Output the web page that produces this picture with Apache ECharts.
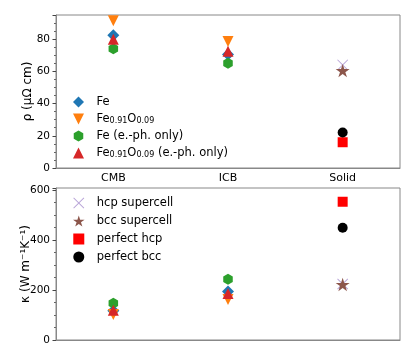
<!DOCTYPE html>
<html>
<head>
<meta charset="utf-8">
<script src="https://cdn.jsdelivr.net/npm/echarts@6/dist/echarts.min.js"></script>
<style>
  html, body { margin: 0; padding: 0; background: #fff; }
  #chart { width: 415px; height: 363px; }
</style>
</head>
<body>
<div id="chart"></div>
<script>
const categories = ['CMB', 'ICB', 'Solid'];

// resistivity rho (uOhm cm)
const rhoFe = [82.5, 70.5, '-'];
const rhoFeO = [91.5, 78.5, '-'];
const rhoFeEph = [74, 65, '-'];
const rhoFeOEph = [80, 72.5, '-'];
const rhoHcpSuper = ['-', '-', 64];
const rhoBccSuper = ['-', '-', 60.5];
const rhoPerfHcp = ['-', '-', 16];
const rhoPerfBcc = ['-', '-', 22];

// thermal conductivity kappa (W/m/K)
const kapFe = [117, 194, '-'];
const kapFeO = [102, 162, '-'];
const kapFeEph = [147, 243, '-'];
const kapFeOEph = [119, 186, '-'];
const kapHcpSuper = ['-', '-', 224];
const kapBccSuper = ['-', '-', 222];
const kapPerfHcp = ['-', '-', 553];
const kapPerfBcc = ['-', '-', 449];

const rhoTicks = { min: 0, max: 95, interval: 20 };
const kapTicks = { min: 0, max: 608, interval: 200 };

// marker shapes (kept as paths so the legend keeps their aspect)
const diamond = 'path://M0,-1L1,0L0,1L-1,0Z';
const triUp = 'path://M0,-1L1,1L-1,1Z';
const triDown = 'path://M-1,-1L1,-1L0,1Z';
const square = 'path://M-1,-1L1,-1L1,1L-1,1Z';
const hexagon = 'path://M0,-1L0.866,-0.5L0.866,0.5L0,1L-0.866,0.5L-0.866,-0.5Z';
const star = 'path://M0,-1L0.2245,-0.309L0.951,-0.309L0.363,0.118L0.588,0.809L0,0.382L-0.588,0.809L-0.363,0.118L-0.951,-0.309L-0.2245,-0.309Z';
const cross = 'path://M-1,-0.88L-0.88,-1L0,-0.12L0.88,-1L1,-0.88L0.12,0L1,0.88L0.88,1L0,0.12L-0.88,1L-1,0.88L-0.12,0Z';

const styles = [
    { name: 'Fe', symbol: diamond, size: 12, color: '#1f77b4' },
    { name: 'Fe0.91O0.09', symbol: triDown, size: 11, color: '#ff7f0e' },
    { name: 'Fe (e.-ph. only)', symbol: hexagon, size: 11, color: '#2ca02c' },
    { name: 'Fe0.91O0.09 (e.-ph. only)', symbol: triUp, size: 11, color: '#d62728' },
    { name: 'hcp supercell', symbol: cross, size: 11, color: '#b9a5d8' },
    { name: 'bcc supercell', symbol: star, size: 14, color: '#8c564b' },
    { name: 'perfect hcp', symbol: square, size: 10, color: '#ff0000' },
    { name: 'perfect bcc', symbol: 'circle', size: 10, color: '#000000' }
];
const rhoData = [rhoFe, rhoFeO, rhoFeEph, rhoFeOEph, rhoHcpSuper, rhoBccSuper, rhoPerfHcp, rhoPerfBcc];
const kapData = [kapFe, kapFeO, kapFeEph, kapFeOEph, kapHcpSuper, kapBccSuper, kapPerfHcp, kapPerfBcc];

const lineColor = '#888';
const font = 'DejaVu Sans';

function makeSeries(data, axisIndex) {
    return styles.map(function (s, i) {
        return {
            name: s.name,
            type: 'scatter',
            xAxisIndex: axisIndex,
            yAxisIndex: axisIndex,
            symbol: s.symbol,
            symbolSize: s.size,
            symbolKeepAspect: true,
            itemStyle: { color: s.color, opacity: 1 },
            data: data[i]
        };
    });
}

function yAxis(ticks, gridIndex, name, gap) {
    return {
        type: 'value',
        gridIndex: gridIndex,
        min: ticks.min,
        max: ticks.max,
        interval: ticks.interval,
        name: name,
        nameLocation: 'middle',
        nameGap: gap,
        nameMoveOverlap: false,
        nameTextStyle: { fontFamily: font, fontSize: 12, color: '#000' },
        axisLine: { show: true, lineStyle: { color: lineColor } },
        axisTick: { show: true, length: 3.5, lineStyle: { color: '#444' } },
        minorTick: { show: true, splitNumber: 4, length: 2, lineStyle: { color: '#666' } },
        splitLine: { show: false },
        axisLabel: {
            fontFamily: font, fontSize: 10.5, color: '#000', margin: 6,
            showMaxLabel: false,
            formatter: function (v) { return v % ticks.interval === 0 ? String(v) : ''; }
        }
    };
}

const legendText = {
    fontFamily: font, fontSize: 11.5, color: '#000',
    rich: {
        n: { fontFamily: font, fontSize: 11.5, color: '#000' },
        s: { fontFamily: font, fontSize: 8, color: '#000', verticalAlign: 'bottom', padding: [3, 0, 0, 0] }
    }
};

const option = {
    animation: false,
    backgroundColor: '#fff',
    grid: [
        { left: 56, right: 15, top: 15, height: 153, show: true, borderColor: lineColor, borderWidth: 1 },
        { left: 56, right: 15, top: 188, height: 152, show: true, borderColor: lineColor, borderWidth: 1 }
    ],
    xAxis: [
        {
            type: 'category', gridIndex: 0, data: categories,
            axisLine: { lineStyle: { color: lineColor } },
            axisTick: { alignWithLabel: true, length: 3.5, lineStyle: { color: '#444' } },
            axisLabel: { fontFamily: font, fontSize: 11, color: '#000', margin: 5 }
        },
        {
            type: 'category', gridIndex: 1, data: categories, position: 'top',
            axisLine: { lineStyle: { color: lineColor } },
            axisTick: { alignWithLabel: true, length: 3.5, lineStyle: { color: '#444' } },
            axisLabel: { show: false }
        }
    ],
    yAxis: [
        yAxis(rhoTicks, 0, 'ρ (μΩ cm)', 22),
        yAxis(kapTicks, 1, 'κ (W m⁻¹K⁻¹)', 24)
    ],
    legend: [
        {
            data: styles.slice(0, 4).map(function (s) { return s.name; }),
            orient: 'vertical', left: 68, top: 91, itemWidth: 26, itemHeight: 11, itemGap: 5,
            textStyle: legendText,
            formatter: function (name) {
                if (name.indexOf('Fe0.91O0.09') === 0) {
                    return '{n|Fe}{s|0.91}{n|O}{s|0.09}{n|' + name.slice(11) + '}';
                }
                return '{n|' + name + '}';
            }
        },
        {
            data: styles.slice(4).map(function (s) { return s.name; }),
            orient: 'vertical', left: 68, top: 192, itemWidth: 26, itemHeight: 11, itemGap: 6,
            textStyle: legendText
        }
    ],
    series: makeSeries(rhoData, 0).concat(makeSeries(kapData, 1))
};

const chart = echarts.init(document.getElementById('chart'), null, { renderer: 'canvas' });
chart.setOption(option);
</script>
</body>
</html>
